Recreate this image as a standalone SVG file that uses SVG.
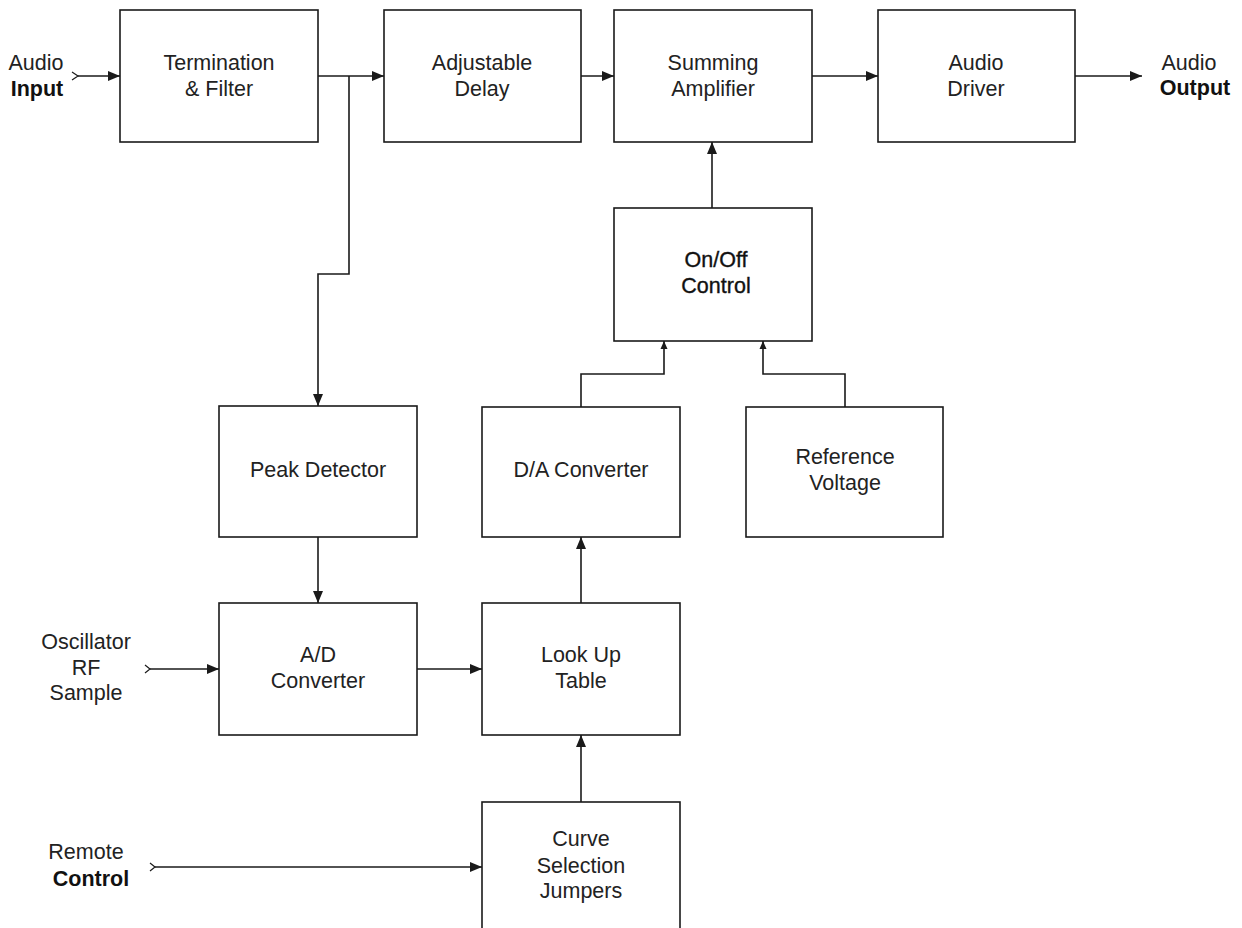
<svg xmlns="http://www.w3.org/2000/svg" width="1242" height="928" viewBox="0 0 1242 928">
<style>
.box{fill:#fff;stroke:#1a1a1a;stroke-width:1.6}
.ln{fill:none;stroke:#1a1a1a;stroke-width:1.6}
.tk{fill:none;stroke:#1a1a1a;stroke-width:1.2}
text{font-family:"Liberation Sans",Arial,sans-serif;font-size:21.5px;fill:#222;text-anchor:middle}
.b{font-weight:bold;fill:#111}
.m{fill:#111;stroke:#111;stroke-width:0.35}
</style>
<defs>
<marker id="ah" markerWidth="12" markerHeight="10" refX="12" refY="5" orient="auto" markerUnits="userSpaceOnUse">
<path d="M0,0 L12,5 L0,10 z" fill="#1a1a1a"/>
</marker>
<marker id="as" markerWidth="8" markerHeight="8" refX="8" refY="4" orient="auto" markerUnits="userSpaceOnUse">
<path d="M0,0.5 L8,4 L0,7.5 z" fill="#1a1a1a"/>
</marker>
</defs>
<rect width="1242" height="928" fill="#fff"/>
<g id="connectors">
<path class="ln" d="M78,76 H120" marker-end="url(#ah)"/>
<path class="tk" d="M72,72 L78,76 L72,80"/>
<path class="ln" d="M318,76 H384" marker-end="url(#ah)"/>
<path class="ln" d="M349,76 V274 H318 V406" marker-end="url(#ah)"/>
<path class="ln" d="M581,76 H614" marker-end="url(#ah)"/>
<path class="ln" d="M812,76 H878" marker-end="url(#ah)"/>
<path class="ln" d="M1075,76 H1142" marker-end="url(#ah)"/>
<path class="ln" d="M712,208 V142" marker-end="url(#ah)"/>
<path class="ln" d="M581,407 V374 H664 V341" marker-end="url(#as)"/>
<path class="ln" d="M845,407 V374 H763 V341" marker-end="url(#as)"/>
<path class="ln" d="M318,537 V603" marker-end="url(#ah)"/>
<path class="ln" d="M150,669 H219" marker-end="url(#ah)"/>
<path class="tk" d="M145,665 L150,669 L145,673"/>
<path class="ln" d="M417,669 H482" marker-end="url(#ah)"/>
<path class="ln" d="M581,603 V537" marker-end="url(#ah)"/>
<path class="ln" d="M581,802 V735" marker-end="url(#ah)"/>
<path class="ln" d="M155,867 H482" marker-end="url(#ah)"/>
<path class="tk" d="M150,863 L155,867 L150,871"/>
</g>
<g id="audio-input"><text x="36" y="70">Audio</text><text x="37" y="96" class="b">Input</text></g>
<g id="termination"><rect class="box" x="120" y="10" width="198" height="132"/><text x="219" y="70">Termination</text><text x="219" y="96">&amp; Filter</text></g>
<g id="delay"><rect class="box" x="384" y="10" width="197" height="132"/><text x="482" y="70">Adjustable</text><text x="482" y="96">Delay</text></g>
<g id="summing"><rect class="box" x="614" y="10" width="198" height="132"/><text x="713" y="70">Summing</text><text x="713" y="96">Amplifier</text></g>
<g id="driver"><rect class="box" x="878" y="10" width="197" height="132"/><text x="976" y="70">Audio</text><text x="976" y="96">Driver</text></g>
<g id="audio-output"><text x="1189" y="70">Audio</text><text x="1195" y="95" class="b">Output</text></g>
<g id="onoff"><rect class="box" x="614" y="208" width="198" height="133"/><text x="716" y="267" class="m">On/Off</text><text x="716" y="293" class="m">Control</text></g>
<g id="peak"><rect class="box" x="219" y="406" width="198" height="131"/><text x="318" y="477">Peak Detector</text></g>
<g id="da"><rect class="box" x="482" y="407" width="198" height="130"/><text x="581" y="477">D/A Converter</text></g>
<g id="ref"><rect class="box" x="746" y="407" width="197" height="130"/><text x="845" y="464">Reference</text><text x="845" y="490">Voltage</text></g>
<g id="oscillator"><text x="86" y="649">Oscillator</text><text x="86" y="675">RF</text><text x="86" y="700">Sample</text></g>
<g id="ad"><rect class="box" x="219" y="603" width="198" height="132"/><text x="318" y="662">A/D</text><text x="318" y="688">Converter</text></g>
<g id="lut"><rect class="box" x="482" y="603" width="198" height="132"/><text x="581" y="662">Look Up</text><text x="581" y="688">Table</text></g>
<g id="remote"><text x="86" y="859">Remote</text><text x="91" y="886" class="b">Control</text></g>
<g id="curve"><rect class="box" x="482" y="802" width="198" height="140"/><text x="581" y="846">Curve</text><text x="581" y="873">Selection</text><text x="581" y="898">Jumpers</text></g>
</svg>
